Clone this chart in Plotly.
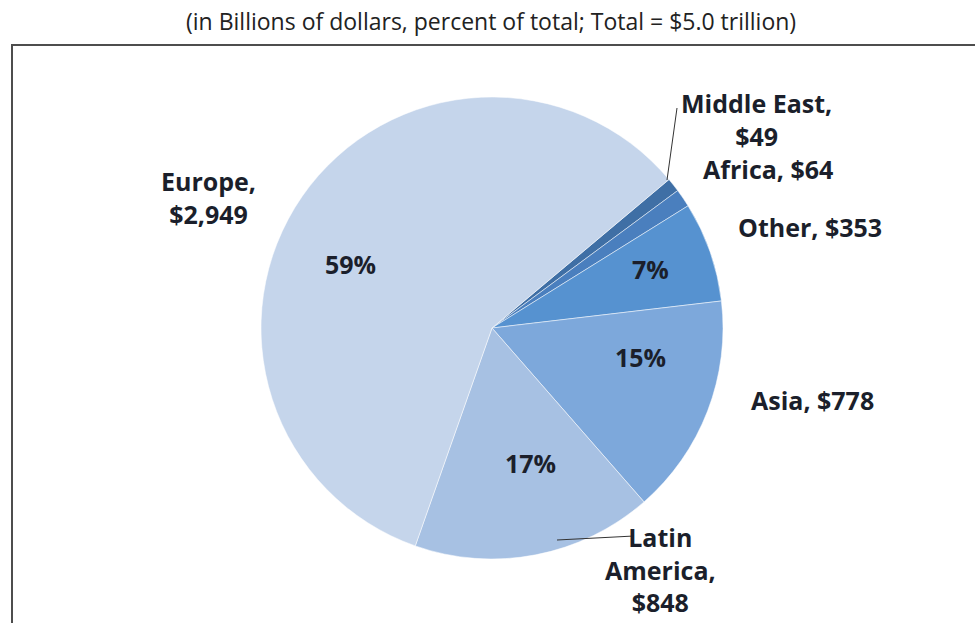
import plotly.graph_objects as go

W, H = 975, 623

# Regional totals, billions of dollars (clockwise from the top right)
regions = ["Middle East", "Africa", "Other", "Asia", "Latin America", "Europe"]
values = [49, 64, 353, 778, 848, 2949]
colors = ["#3F6FA5", "#4A7FBE", "#5692D0", "#7DA8DB", "#A7C1E3", "#C5D5EB"]
show_pct = [False, False, True, True, True, True]

title_text = "(in Billions of dollars, percent of total; Total = $5.0 trillion)"

# Outer label text (line breaks) and their pixel anchor points
label_lines = {
    "Middle East": ["Middle East,", "${v}"],
    "Africa": ["Africa, ${v}"],
    "Other": ["Other, ${v}"],
    "Asia": ["Asia, ${v}"],
    "Latin America": ["Latin", "America,", "${v}"],
    "Europe": ["Europe,", "${v}"],
}
label_pos = {
    "Middle East": (756, 119),
    "Africa": (768, 169),
    "Other": (810, 227),
    "Asia": (812, 400),
    "Latin America": (660, 569),
    "Europe": (208, 197),
}
# Pixel anchor points of the percentage labels inside the slices
pct_pos = {
    "Other": (650, 269),
    "Asia": (640, 357),
    "Latin America": (530, 463),
    "Europe": (350, 264),
}

LABEL_FONT = dict(family="Open Sans", size=25, color="#1B1F2B", weight="bold")


def px(x):
    return x / W


def py(y):
    return 1 - y / H


cx, cy, r = 492, 328, 231

fig = go.Figure(
    go.Pie(
        labels=regions,
        values=values,
        sort=False,
        direction="clockwise",
        rotation=50,
        marker=dict(colors=colors, line=dict(color="rgba(255,255,255,0.5)", width=1)),
        textinfo="none",
        domain=dict(x=[px(cx - r), px(cx + r)], y=[py(cy + r), py(cy - r)]),
        showlegend=False,
        hoverinfo="label+value+percent",
    )
)

total = sum(values)
annotations = [
    dict(
        x=px(491), y=py(21), xref="paper", yref="paper",
        text=title_text, showarrow=False,
        font=dict(family="Open Sans", size=23, color="#222222"),
        xanchor="center", yanchor="middle",
    )
]
for name, v, s in zip(regions, values, show_pct):
    lines = [ln.replace("{v}", f"{v:,}") for ln in label_lines[name]]
    x, y = label_pos[name]
    annotations.append(
        dict(
            x=px(x), y=py(y), xref="paper", yref="paper",
            text="<br>".join(lines), showarrow=False,
            font=LABEL_FONT,
            xanchor="center", yanchor="middle", align="center",
        )
    )
    if s:
        x, y = pct_pos[name]
        annotations.append(
            dict(
                x=px(x), y=py(y), xref="paper", yref="paper",
                text=f"{round(100 * v / total)}%", showarrow=False,
                font=LABEL_FONT,
                xanchor="center", yanchor="middle",
            )
        )

shapes = [
    # outer frame
    dict(type="rect", xref="paper", yref="paper",
         x0=px(12), x1=px(990), y0=py(640), y1=py(45),
         line=dict(color="#4D4D4D", width=2), fillcolor="rgba(0,0,0,0)"),
    # leader lines
    dict(type="line", xref="paper", yref="paper",
         x0=px(667), y0=py(180), x1=px(677), y1=py(108),
         line=dict(color="#333333", width=1)),
    dict(type="line", xref="paper", yref="paper",
         x0=px(557), y0=py(540), x1=px(634), y1=py(536),
         line=dict(color="#333333", width=1)),
]

fig.update_layout(
    width=W, height=H,
    margin=dict(l=0, r=0, t=0, b=0),
    paper_bgcolor="white", plot_bgcolor="white",
    annotations=annotations, shapes=shapes,
)

fig.write_html("out.html")
